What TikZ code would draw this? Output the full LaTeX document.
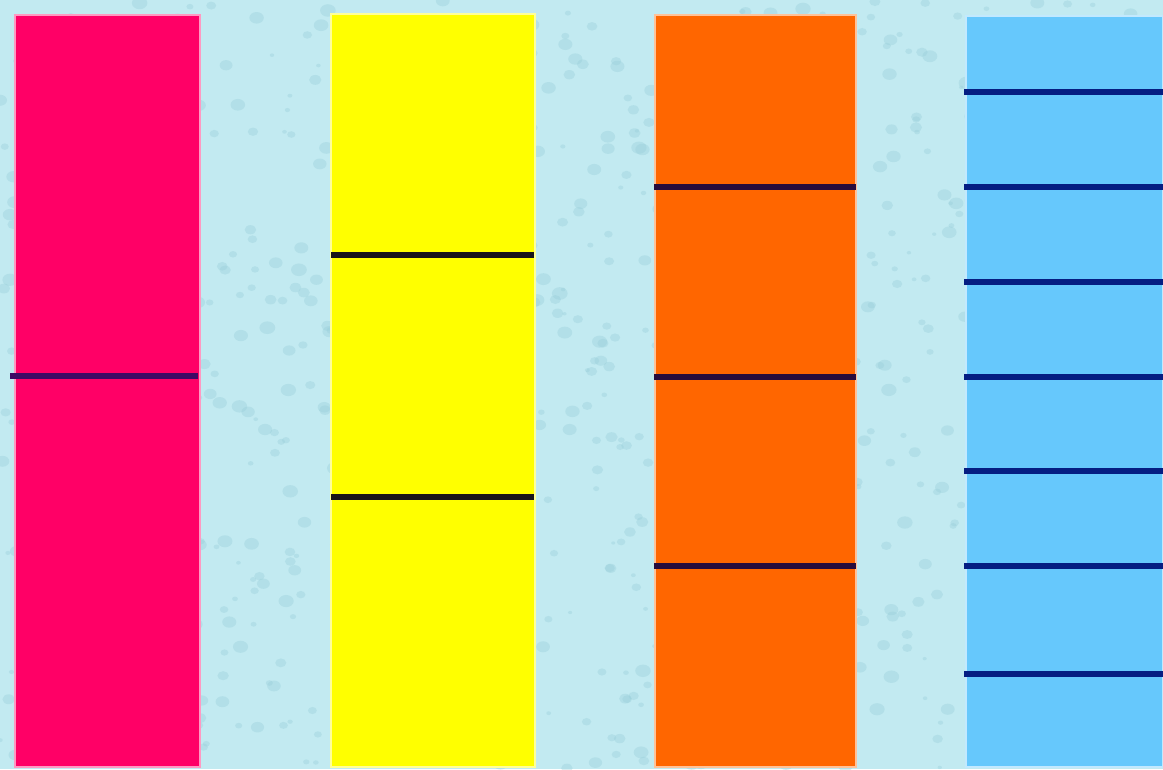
\documentclass[tikz,border=0pt]{standalone}
\usepackage{tikz}

\definecolor{water}{RGB}{194,234,241}
\definecolor{drop}{RGB}{150,205,216}
\definecolor{stripPink}{RGB}{255,0,102}
\definecolor{stripYellow}{RGB}{255,255,0}
\definecolor{stripOrange}{RGB}{255,102,0}
\definecolor{stripBlue}{RGB}{102,200,252}
\definecolor{linePurple}{RGB}{62,10,100}
\definecolor{lineBlack}{RGB}{25,20,25}
\definecolor{lineDark}{RGB}{40,12,60}
\definecolor{lineNavy}{RGB}{5,30,130}

\tikzset{
  divider/.style={line width=3.6pt},
  strip/.style={draw=white!60!#1, line width=0.6pt, fill=#1}
}

\begin{document}
\begin{tikzpicture}[x=0.02cm, y=-0.02cm, line cap=butt]
  % ---------- background: water drops ----------
  \fill[water] (0,0) rectangle (1163,769);
  \useasboundingbox (0,0) rectangle (1163,769);
  \pgfmathsetseed{7}
  \foreach \i in {1,...,900} {
    \pgfmathsetmacro{\dx}{rnd*1163}
    \pgfmathsetmacro{\dy}{rnd*769}
    \pgfmathsetmacro{\dr}{2+rnd*6}
    \fill[drop, opacity=0.35] (\dx,\dy) ellipse ({\dr} and {\dr*0.8});
  }
  % ---------- 1. pink strip ----------
  \fill[strip=stripPink] (15,15) rectangle (200,767);
  \draw[divider, linePurple] (10,376) -- (198,376);
  % ---------- 2. yellow strip ----------
  \fill[strip=stripYellow] (331,14) rectangle (535,767);
  \foreach \y in {255,497} {\draw[divider, lineBlack] (331,\y) -- (534,\y);}
  % ---------- 3. orange strip ----------
  \fill[strip=stripOrange] (655,15) rectangle (856,767);
  \foreach \y in {187,377,566} {\draw[divider, lineDark] (654,\y) -- (856,\y);}
  % ---------- 4. blue strip ----------
  \fill[strip=stripBlue] (966,16) rectangle (1163,767);
  \foreach \y in {92,187,282,377,471,566,674} {\draw[divider, lineNavy] (964,\y) -- (1163,\y);}
\end{tikzpicture}
\end{document}
